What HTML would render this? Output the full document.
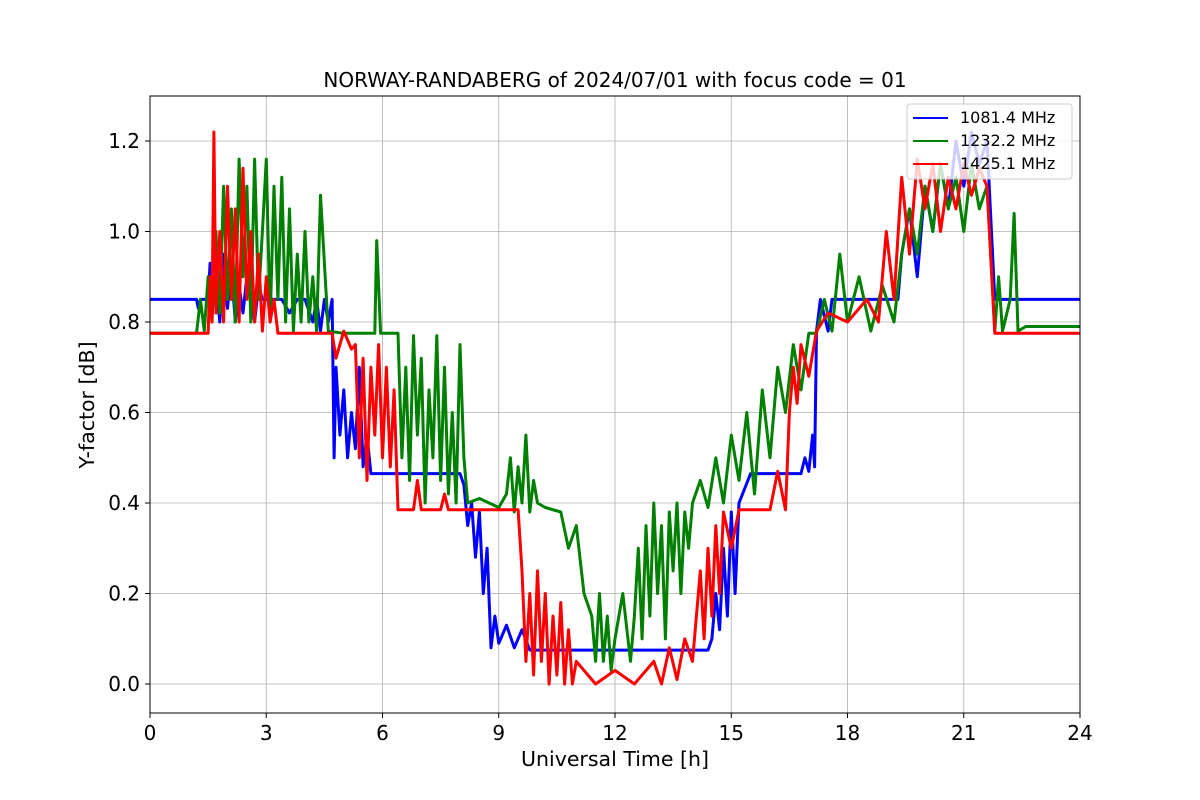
<!DOCTYPE html>
<html><head><meta charset="utf-8"><style>
body{margin:0;background:#fff}
svg{display:block;font-family:"DejaVu Sans","Liberation Sans",sans-serif}
</style></head><body>
<svg id="chart" width="1200" height="800" viewBox="0 0 1200 800" xmlns="http://www.w3.org/2000/svg">
<rect width="1200" height="800" fill="#fff"/>
<g id="grid"></g>
<g id="series"></g>
<rect x="150" y="96" width="930" height="617" fill="none" stroke="#000" stroke-width="1"/>
<g id="ticks"></g>
<text x="615" y="87" font-size="20" text-anchor="middle">NORWAY-RANDABERG of 2024/07/01 with focus code = 01</text>
<text x="615" y="766" font-size="20.5" text-anchor="middle">Universal Time [h]</text>
<text transform="translate(94,405) rotate(-90)" font-size="20.5" text-anchor="middle">Y-factor [dB]</text>
<g>
<rect x="907" y="104" width="165" height="75" rx="3" fill="#fff" fill-opacity="0.8" stroke="#ccc"/>
<g><line x1="913" y1="118" x2="948" y2="118" stroke="#0000ff" stroke-width="2"/><text x="960" y="123" font-size="16">1081.4 MHz</text></g>
<g><line x1="913" y1="141" x2="948" y2="141" stroke="#008000" stroke-width="2"/><text x="960" y="146" font-size="16">1232.2 MHz</text></g>
<g><line x1="913" y1="164" x2="948" y2="164" stroke="#ff0000" stroke-width="2"/><text x="960" y="169" font-size="16">1425.1 MHz</text></g>
</g>
</svg>
<script>
const xTicks=[0,3,6,9,12,15,18,21,24];
const yTicks=[0,0.2,0.4,0.6,0.8,1.0,1.2];
const yTickLabels=["0.0","0.2","0.4","0.6","0.8","1.0","1.2"];
const blueData=[[0,.85],[1.2,.85],[1.25,.83],[1.3,.85],[1.5,.85],[1.55,.93],[1.6,.82],[1.7,.9],[1.8,.8],[1.9,.95],[2.0,.83],[2.1,.92],[2.2,.8],[2.3,.88],[2.4,.82],[2.5,.9],[2.6,.85],[2.7,.8],[2.8,.88],[2.9,.85],[3.4,.85],[3.6,.82],[3.8,.85],[4.0,.85],[4.2,.8],[4.3,.85],[4.4,.78],[4.5,.85],[4.6,.8],[4.7,.85],[4.75,.5],[4.8,.7],[4.9,.55],[5.0,.65],[5.1,.5],[5.2,.6],[5.3,.52],[5.4,.7],[5.5,.48],[5.6,.55],[5.7,.465],[8.0,.465],[8.1,.44],[8.2,.35],[8.3,.4],[8.4,.28],[8.5,.38],[8.6,.2],[8.7,.3],[8.8,.08],[8.9,.15],[9.0,.09],[9.2,.13],[9.4,.08],[9.6,.12],[9.8,.075],[14.4,.075],[14.5,.1],[14.6,.2],[14.7,.12],[14.8,.3],[14.9,.15],[15.0,.38],[15.1,.2],[15.2,.4],[15.5,.465],[16.8,.465],[16.9,.5],[17.0,.47],[17.1,.55],[17.15,.48],[17.2,.78],[17.3,.85],[17.5,.78],[17.6,.85],[19.3,.85],[19.4,.95],[19.6,1.05],[19.8,.9],[20,1.1],[20.2,1.0],[20.4,1.15],[20.6,1.05],[20.8,1.2],[21,1.1],[21.2,1.22],[21.4,1.15],[21.6,1.2],[21.8,.85],[24,.85]];
const greenData=[[0,.775],[1.2,.775],[1.3,.85],[1.4,.78],[1.5,.9],[1.6,.8],[1.7,1.0],[1.8,.82],[1.9,1.1],[2.0,.85],[2.1,1.05],[2.2,.8],[2.3,1.16],[2.4,.9],[2.5,1.1],[2.6,.8],[2.7,1.16],[2.8,.85],[2.9,1.0],[3.0,1.16],[3.1,.8],[3.2,1.1],[3.3,.85],[3.4,1.12],[3.5,.8],[3.6,1.05],[3.7,.78],[3.8,.95],[3.9,.8],[4.0,1.0],[4.1,.8],[4.2,.9],[4.3,.78],[4.4,1.08],[4.6,.78],[5.0,.775],[5.8,.775],[5.85,.98],[5.95,.775],[6.4,.775],[6.5,.5],[6.6,.7],[6.7,.45],[6.8,.77],[6.9,.55],[7.0,.72],[7.1,.4],[7.2,.65],[7.3,.5],[7.4,.77],[7.5,.45],[7.6,.7],[7.7,.42],[7.8,.6],[7.9,.4],[8.0,.75],[8.1,.5],[8.2,.4],[8.5,.41],[9.0,.39],[9.2,.42],[9.3,.5],[9.4,.38],[9.5,.48],[9.6,.4],[9.7,.55],[9.8,.38],[9.9,.45],[10.0,.4],[10.2,.39],[10.6,.38],[10.8,.3],[11.0,.35],[11.2,.2],[11.4,.15],[11.5,.05],[11.6,.2],[11.7,.05],[11.8,.15],[11.9,.03],[12.0,.1],[12.2,.2],[12.4,.05],[12.5,.15],[12.6,.3],[12.7,.1],[12.8,.35],[12.9,.15],[13.0,.4],[13.1,.2],[13.2,.35],[13.3,.1],[13.4,.38],[13.5,.25],[13.6,.4],[13.7,.2],[13.8,.38],[13.9,.3],[14.0,.4],[14.2,.45],[14.4,.39],[14.6,.5],[14.8,.4],[15.0,.55],[15.2,.45],[15.4,.6],[15.6,.42],[15.8,.65],[16.0,.5],[16.2,.7],[16.4,.6],[16.6,.75],[16.8,.65],[17.0,.775],[17.2,.775],[17.4,.85],[17.6,.78],[17.8,.95],[18.0,.8],[18.3,.9],[18.6,.78],[18.9,.88],[19.2,.8],[19.4,.95],[19.6,1.05],[19.8,.95],[20,1.1],[20.2,1.0],[20.4,1.15],[20.6,1.05],[20.8,1.12],[21,1.0],[21.2,1.15],[21.4,1.05],[21.6,1.1],[21.8,.78],[21.9,.9],[22.0,.78],[22.2,.85],[22.3,1.04],[22.4,.78],[22.6,.79],[24,.79]];
const redData=[[0,.775],[1.5,.775],[1.55,.9],[1.6,.8],[1.65,1.22],[1.7,.82],[1.8,1.0],[1.9,.8],[2.0,1.1],[2.1,.85],[2.2,1.05],[2.3,.8],[2.4,1.14],[2.5,.85],[2.6,1.0],[2.7,.8],[2.8,.95],[2.9,.78],[3.0,.9],[3.1,.8],[3.2,.85],[3.3,.775],[4.7,.775],[4.8,.72],[5.0,.78],[5.2,.74],[5.3,.75],[5.4,.5],[5.5,.72],[5.6,.45],[5.7,.7],[5.8,.55],[5.9,.75],[6.0,.5],[6.1,.7],[6.2,.48],[6.3,.65],[6.4,.385],[6.8,.385],[6.9,.45],[7.0,.385],[7.5,.385],[7.6,.42],[7.7,.385],[8.5,.385],[9.5,.385],[9.6,.25],[9.7,.05],[9.8,.2],[9.9,.02],[10.0,.25],[10.1,.05],[10.2,.2],[10.3,0],[10.4,.15],[10.5,.02],[10.6,.18],[10.7,0],[10.8,.12],[10.9,0],[11.0,.05],[11.5,0],[12.0,.03],[12.5,0],[13.0,.05],[13.2,0],[13.4,.08],[13.6,.01],[13.8,.1],[14.0,.05],[14.2,.25],[14.3,.1],[14.4,.3],[14.5,.15],[14.6,.35],[14.7,.2],[14.8,.38],[15.0,.3],[15.2,.385],[16.0,.385],[16.2,.47],[16.4,.385],[16.5,.6],[16.6,.7],[16.7,.62],[16.8,.75],[17.0,.68],[17.2,.78],[17.5,.82],[18.0,.8],[18.5,.85],[18.8,.8],[19.0,1.0],[19.2,.85],[19.4,1.12],[19.6,.95],[19.8,1.16],[20.0,1.05],[20.2,1.15],[20.4,1.0],[20.6,1.12],[20.8,1.05],[21.0,1.15],[21.2,1.08],[21.4,1.14],[21.6,1.1],[21.8,.775],[24,.775]];
const seriesColors=["#0000ff","#008000","#ff0000"];
const seriesNames=["series-1081-mhz","series-1232-mhz","series-1425-mhz"];
const NS="http://www.w3.org/2000/svg";
const X=t=>150+t/24*930;
const Y=v=>684-v*452.5;
const grid=document.getElementById('grid'),ticks=document.getElementById('ticks'),ser=document.getElementById('series');
xTicks.forEach(t=>{
 const l=document.createElementNS(NS,'line');
 
 
 l.setAttribute('x1',X(t));l.setAttribute('x2',X(t));l.setAttribute('y1',96);l.setAttribute('y2',713);l.setAttribute('stroke','#b0b0b0');l.setAttribute('stroke-width','0.8');grid.appendChild(l);
 const tk=document.createElementNS(NS,'line');
 
 
 tk.setAttribute('x1',X(t));tk.setAttribute('x2',X(t));tk.setAttribute('y1',713);tk.setAttribute('y2',718);tk.setAttribute('stroke','#000');ticks.appendChild(tk);
 const tx=document.createElementNS(NS,'text');
 
 
 tx.setAttribute('x',X(t));tx.setAttribute('y',740);tx.setAttribute('font-size','20');tx.setAttribute('text-anchor','middle');tx.textContent=t;ticks.appendChild(tx);
});
yTicks.forEach((v,i)=>{
 const l=document.createElementNS(NS,'line');
 
 
 l.setAttribute('x1',150);l.setAttribute('x2',1080);l.setAttribute('y1',Y(v));l.setAttribute('y2',Y(v));l.setAttribute('stroke','#b0b0b0');l.setAttribute('stroke-width','0.8');grid.appendChild(l);
 const tk=document.createElementNS(NS,'line');
 
 
 tk.setAttribute('x1',145);tk.setAttribute('x2',150);tk.setAttribute('y1',Y(v));tk.setAttribute('y2',Y(v));tk.setAttribute('stroke','#000');ticks.appendChild(tk);
 const tx=document.createElementNS(NS,'text');
 
 
 tx.setAttribute('x',140);tx.setAttribute('y',Y(v)+7);tx.setAttribute('font-size','20');tx.setAttribute('text-anchor','end');tx.textContent=yTickLabels[i];ticks.appendChild(tx);
});
[blueData,greenData,redData].forEach((d,i)=>{
 const p=document.createElementNS(NS,'polyline');
 
 
 p.setAttribute('points',d.map(q=>X(q[0]).toFixed(1)+','+Y(q[1]).toFixed(1)).join(' '));
 p.setAttribute('fill','none');p.setAttribute('stroke',seriesColors[i]);p.setAttribute('stroke-width','3');p.setAttribute('stroke-linejoin','round');
 ser.appendChild(p);
});
</script>
</body></html>
